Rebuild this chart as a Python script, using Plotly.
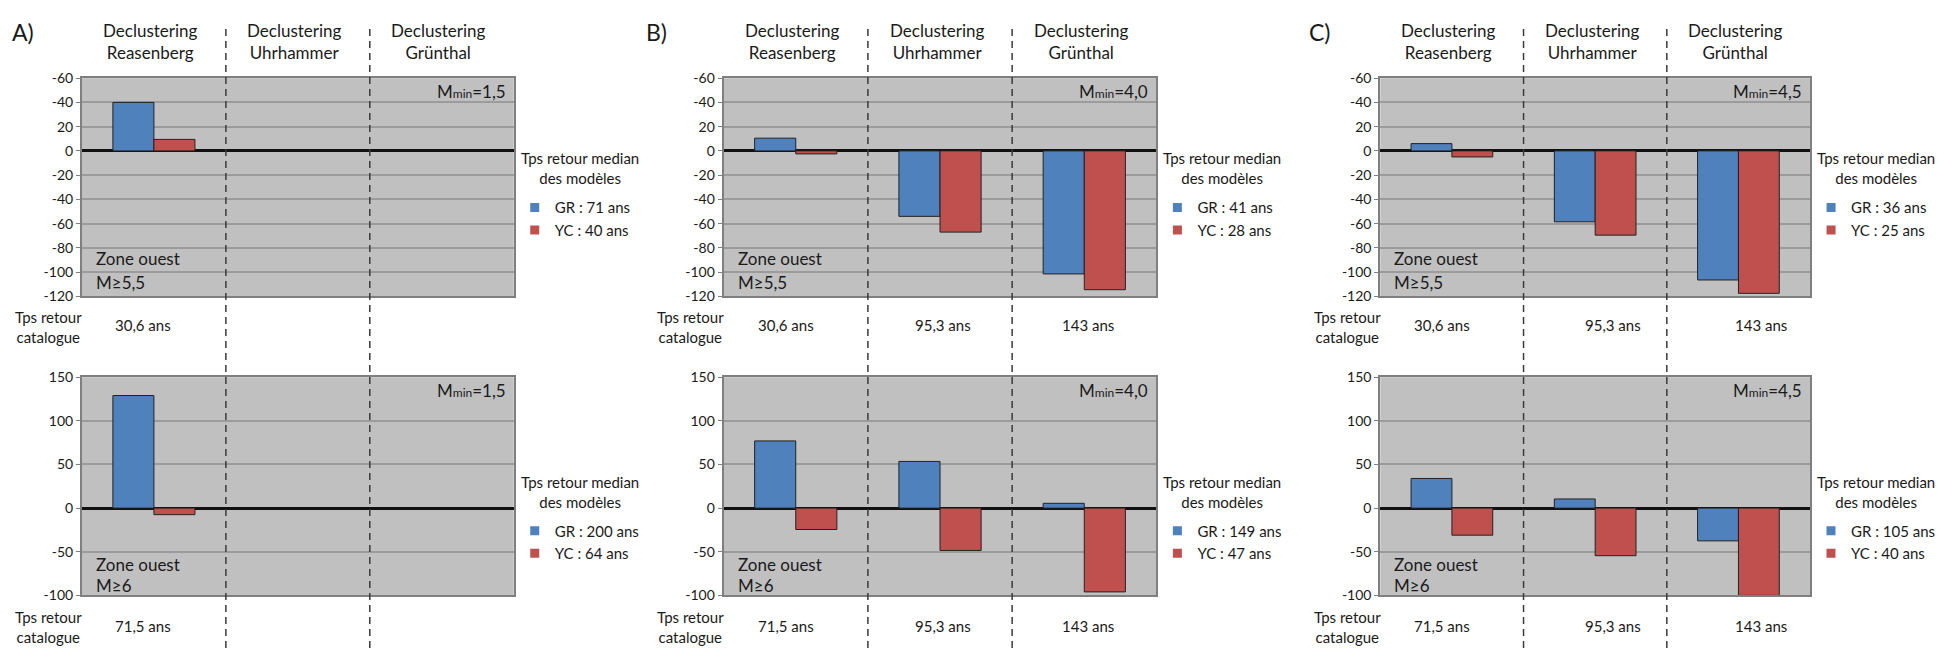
import plotly.graph_objects as go

# ---------------- data ----------------
categories = ["Reasenberg", "Uhrhammer", "Grünthal"]
headers = ["Declustering<br>Reasenberg", "Declustering<br>Uhrhammer", "Declustering<br>Grünthal"]

panel_labels = ["A)", "B)", "C)"]
mmin_labels = ["1,5", "4,0", "4,5"]

# top row (M>=5.5), bottom row (M>=6) ; GR (blue) and YC (red)
A_top_GR = [40, None, None]
A_top_YC = [9.5, None, None]
A_bot_GR = [129, None, None]
A_bot_YC = [-7.5, None, None]

B_top_GR = [10.5, -54, -101.5]
B_top_YC = [-2.5, -67, -114.5]
B_bot_GR = [77, 53.5, 5.5]
B_bot_YC = [-24.5, -48.5, -96]

C_top_GR = [6, -58.5, -106.5]
C_top_YC = [-5, -69.5, -117.5]
C_bot_GR = [34, 10.5, -37.5]
C_bot_YC = [-31, -54.5, -100]

legend_top_GR = ["GR : 71 ans", "GR : 41 ans", "GR : 36 ans"]
legend_top_YC = ["YC : 40 ans", "YC : 28 ans", "YC : 25 ans"]
legend_bot_GR = ["GR : 200 ans", "GR : 149 ans", "GR : 105 ans"]
legend_bot_YC = ["YC : 64 ans", "YC : 47 ans", "YC : 40 ans"]
legend_title = "Tps retour median<br>des modèles"

catalogue_top = [["30,6 ans"], ["30,6 ans", "95,3 ans", "143 ans"], ["30,6 ans", "95,3 ans", "143 ans"]]
catalogue_bot = [["71,5 ans"], ["71,5 ans", "95,3 ans", "143 ans"], ["71,5 ans", "95,3 ans", "143 ans"]]
catalogue_label = "Tps retour<br>catalogue"

zone_top = ["Zone ouest", "M≥5,5"]
zone_bot = ["Zone ouest", "M≥6"]

top_ticks = [60, 40, 20, 0, -20, -40, -60, -80, -100, -120]
top_ticktext = ["-60", "-40", "20", "0", "-20", "-40", "-60", "-80", "-100", "-120"]
bot_ticks = [150, 100, 50, 0, -50, -100]
bot_ticktext = ["150", "100", "50", "0", "-50", "-100"]

# ---------------- layout helpers ----------------
W, H = 1941, 656
FONT = "Lato"
TXT = "#1a1a1a"
BLUE = "#4F81BD"
RED = "#C0504D"


def X(px):
    return px / W


def Y(py):
    return 1 - py / H


panels_x = [(82, 514), (724, 1157), (1381, 1811)]
panel_label_x = [23, 657, 1321]
row_top = (71, 295)
row_bot = (378, 602)
cat_label_shift = [[-11, 0, 0], [-10, 3, 4], [-10, 18, 23]]

data_top = [(A_top_GR, A_top_YC), (B_top_GR, B_top_YC), (C_top_GR, C_top_YC)]
data_bot = [(A_bot_GR, A_bot_YC), (B_bot_GR, B_bot_YC), (C_bot_GR, C_bot_YC)]

fig = go.Figure()
annotations = []
shapes = []
layout_axes = {}
legends = {}

ax_i = 0
for p in range(3):
    x0, x1 = panels_x[p]
    rows = [
        (row_top, data_top[p], top_ticks, top_ticktext, [-120, 60], legend_top_GR[p], legend_top_YC[p],
         catalogue_top[p], zone_top, [185, 210], 83, 130, 324, 326),
        (row_bot, data_bot[p], bot_ticks, bot_ticktext, [-100, 150], legend_bot_GR[p], legend_bot_YC[p],
         catalogue_bot[p], zone_bot, [192, 214], 109, 155, 633, 634),
    ]
    for (rowy, dat, ticks, ticktext, yr, leg_gr, leg_yc, cats, zone, zone_dy,
         title_dy, item_dy, cat_y, lab_y) in rows:
        ax_i += 1
        sfx = "" if ax_i == 1 else str(ax_i)
        xname, yname = "x" + sfx, "y" + sfx
        legname = "legend" + sfx
        gr, yc = dat
        fig.add_trace(go.Bar(x=[0, 1, 2], y=gr, name=leg_gr, showlegend=False,
                             marker=dict(color=BLUE, line=dict(color="#222222", width=1)),
                             xaxis=xname, yaxis=yname))
        fig.add_trace(go.Bar(x=[0, 1, 2], y=yc, name=leg_yc, showlegend=False,
                             marker=dict(color=RED, line=dict(color="#222222", width=1)),
                             xaxis=xname, yaxis=yname))
        # legend entries (small square swatches, no data points)
        for nm, col in ((leg_gr, BLUE), (leg_yc, RED)):
            fig.add_trace(go.Scatter(x=[None], y=[None], mode="markers", name=nm,
                                     marker=dict(symbol="square", size=9, color=col),
                                     xaxis=xname, yaxis=yname, legend=legname, showlegend=True))
        layout_axes["xaxis" + sfx] = dict(
            domain=[X(x0), X(x1)], range=[-0.5, 2.5], anchor=yname,
            showticklabels=False, showgrid=False, zeroline=False, ticks="",
            showline=True, mirror=True, linecolor="#7f7f7f", linewidth=2, fixedrange=True)
        layout_axes["yaxis" + sfx] = dict(
            domain=[Y(rowy[1]), Y(rowy[0])], range=yr, anchor=xname,
            tickmode="array", tickvals=ticks, ticktext=ticktext,
            tickfont=dict(family=FONT, size=14, color=TXT),
            showgrid=True, gridcolor="#9b9b9b", gridwidth=1.5,
            zeroline=True, zerolinecolor="#111111", zerolinewidth=2.5,
            showline=True, mirror=True, linecolor="#7f7f7f", linewidth=2,
            ticks="outside", ticklen=4, tickcolor="#7f7f7f", fixedrange=True)
        legends[legname] = dict(
            x=X(x1 + 1), y=Y(rowy[0] + item_dy - 14), xanchor="left", yanchor="top",
            bgcolor="rgba(0,0,0,0)", borderwidth=0,
            font=dict(family=FONT, size=15, color=TXT),
            itemwidth=30, tracegroupgap=0, traceorder="normal")
        # legend title
        annotations.append(dict(
            xref="paper", yref="paper", x=X(x1 + 66), y=Y(rowy[0] + title_dy + 9),
            xanchor="center", yanchor="middle", showarrow=False, text=legend_title,
            font=dict(family=FONT, size=15, color=TXT)))

        # M min label
        annotations.append(dict(
            xref="paper", yref="paper", x=X(x1 - 6), y=Y(rowy[0] + 14),
            xanchor="right", yanchor="middle", showarrow=False,
            text="M<span style='font-size:12px'>min</span>=" + mmin_labels[p],
            font=dict(family=FONT, size=17, color=TXT)))
        # zone labels
        for line, dy in zip(zone, zone_dy):
            annotations.append(dict(
                xref="paper", yref="paper", x=X(x0 + 12), y=Y(rowy[0] + dy),
                xanchor="left", yanchor="middle", showarrow=False, text=line,
                font=dict(family=FONT, size=17, color=TXT)))
        # catalogue return times
        annotations.append(dict(
            xref="paper", yref="paper", x=X(x0 - 33), y=Y(lab_y),
            xanchor="center", yanchor="middle", showarrow=False,
            text=catalogue_label, font=dict(family=FONT, size=15, color=TXT)))
        for i, t in enumerate(cats):
            annotations.append(dict(
                xref=xname, yref="paper", x=i, y=Y(cat_y), xshift=cat_label_shift[p][i],
                xanchor="center", yanchor="middle", showarrow=False, text=t,
                font=dict(family=FONT, size=15, color=TXT)))

    top_x = "x" + ("" if p == 0 else str(2 * p + 1))
    # panel label
    annotations.append(dict(
        xref="paper", yref="paper", x=X(panel_label_x[p]), y=Y(24),
        xanchor="center", yanchor="middle", showarrow=False, text=panel_labels[p],
        font=dict(family=FONT, size=23, color=TXT)))
    # headers
    for i, h in enumerate(headers):
        annotations.append(dict(
            xref=top_x, yref="paper", x=i, y=Y(33), xshift=-3,
            xanchor="center", yanchor="middle", showarrow=False, text=h,
            font=dict(family=FONT, size=17, color=TXT)))
    # dashed separators
    for b in (0.5, 1.5):
        shapes.append(dict(
            type="line", xref=top_x, yref="paper", x0=b, x1=b, y0=0, y1=Y(17),
            line=dict(color="#3a3a3a", width=1.5, dash="7px,5px"), layer="above"))

fig.update_layout(
    width=W, height=H,
    margin=dict(l=0, r=0, t=0, b=0),
    paper_bgcolor="white", plot_bgcolor="#C0C0C0",
    barmode="group", bargap=0.43, bargroupgap=0,
    font=dict(family=FONT, size=14, color=TXT),
    annotations=annotations, shapes=shapes,
    **layout_axes, **legends)

fig.write_html(
    "out.html",
    config={"displayModeBar": False},
    post_script="document.body.style.margin='0';document.body.style.overflow='hidden';",
)
